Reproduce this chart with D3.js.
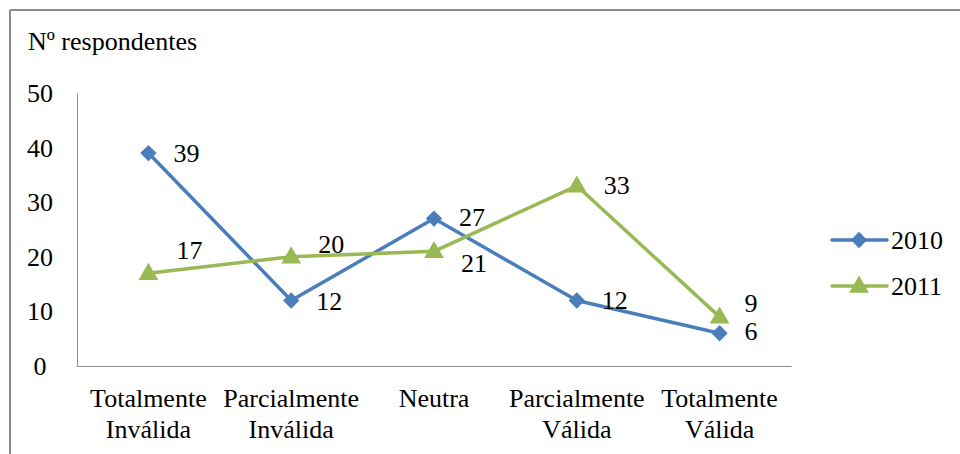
<!DOCTYPE html>
<html>
<head>
<meta charset="utf-8">
<script src="https://cdn.jsdelivr.net/npm/d3@7"></script>
<style>
  body { margin: 0; background: #fff; }
</style>
</head>
<body>
<svg id="chart" width="960" height="454"></svg>
<script>
const categories = [["Totalmente", "Inválida"], ["Parcialmente", "Inválida"], ["Neutra"], ["Parcialmente", "Válida"], ["Totalmente", "Válida"]];
const values2010 = [39, 12, 27, 12, 6];
const values2011 = [17, 20, 21, 33, 9];
const yTicks = [0, 10, 20, 30, 40, 50];
const seriesNames = ["2010", "2011"];

// label offsets (dx, dy) per point, mimic the original placement
const labelOffsets2010 = [[25, 0], [25, 1], [25, -1], [25, 0], [25, -2]];
const labelOffsets2011 = [[28, -23], [27, -12], [27, 12], [27, 0], [25, -13]];

const FONT = "Liberation Serif";
const FS = 26;

const svg = d3.select("#chart").attr("font-family", FONT);
const colors = { "2010": "#4a7ebb", "2011": "#98b954" };

// frame
svg.append("line").attr("x1", 10).attr("x2", 960).attr("y1", 10).attr("y2", 10)
  .attr("stroke", "#8c8c8c").attr("stroke-width", 2);
svg.append("line").attr("x1", 10).attr("x2", 10).attr("y1", 10).attr("y2", 454)
  .attr("stroke", "#8c8c8c").attr("stroke-width", 2);

const keys = categories.map(c => c.join(" "));
const x = d3.scaleBand().domain(keys).range([77, 791]);
const y = d3.scaleLinear().domain([0, 50]).range([366, 93]);
const cx = k => x(k) + x.bandwidth() / 2;

// axes
const yAxis = svg.append("g").attr("transform", "translate(77,0)")
  .call(d3.axisLeft(y).tickValues(yTicks).tickSize(0));
yAxis.attr("font-family", FONT);
yAxis.select(".domain").attr("stroke", "#8c8c8c");
yAxis.selectAll("text").attr("font-size", FS).attr("font-family", FONT)
  .attr("text-anchor", "middle").attr("x", -37).attr("dy", "0.33em").attr("fill", "#000");

const xAxis = svg.append("g").attr("transform", "translate(0,366)")
  .call(d3.axisBottom(x).tickSize(0).tickFormat(""));
xAxis.select(".domain").attr("stroke", "#8c8c8c");

categories.forEach((lines, i) => {
  const t = svg.append("text").attr("x", cx(keys[i])).attr("y", 407)
    .attr("text-anchor", "middle").attr("font-size", FS).attr("font-family", FONT);
  lines.forEach((l, j) => t.append("tspan").attr("x", cx(keys[i])).attr("dy", j === 0 ? 0 : 31).text(l));
});

svg.append("text").attr("x", 28).attr("y", 50).attr("font-size", FS).attr("font-family", FONT)
  .text("Nº respondentes");

const line = d3.line().x((d, i) => cx(keys[i])).y(d => y(d));
const diamond = d3.symbol().type(d3.symbolDiamond2).size(170);
const triangle = d3.symbol().type(d3.symbolTriangle).size(170);

function drawSeries(vals, name, sym, offsets) {
  svg.append("path").datum(vals).attr("d", line).attr("fill", "none")
    .attr("stroke", colors[name]).attr("stroke-width", 3.5).attr("stroke-linejoin", "round");
  svg.selectAll(null).data(vals).enter().append("path")
    .attr("d", sym)
    .attr("transform", (d, i) => `translate(${cx(keys[i])},${y(d) + (name === "2011" ? 1 : 0)})`)
    .attr("fill", colors[name]);
  svg.selectAll(null).data(vals).enter().append("text")
    .attr("x", (d, i) => cx(keys[i]) + offsets[i][0])
    .attr("y", (d, i) => y(d) + offsets[i][1])
    .attr("dy", "0.33em")
    .attr("font-size", FS).attr("font-family", FONT).text(d => d);
}
drawSeries(values2010, "2010", diamond, labelOffsets2010);
drawSeries(values2011, "2011", triangle, labelOffsets2011);

// legend
const legend = svg.append("g");
seriesNames.forEach((name, i) => {
  const ly = 240 + i * 46;
  legend.append("line").attr("x1", 832).attr("x2", 887).attr("y1", ly).attr("y2", ly)
    .attr("stroke", colors[name]).attr("stroke-width", 3.5).attr("stroke-linecap", "round");
  legend.append("path").attr("d", i === 0 ? diamond : triangle)
    .attr("transform", `translate(859,${ly + (i === 1 ? 1 : 0)})`).attr("fill", colors[name]);
  legend.append("text").attr("x", 891).attr("y", ly).attr("dy", "0.33em")
    .attr("font-size", FS).attr("font-family", FONT).text(name);
});
</script>
</body>
</html>
